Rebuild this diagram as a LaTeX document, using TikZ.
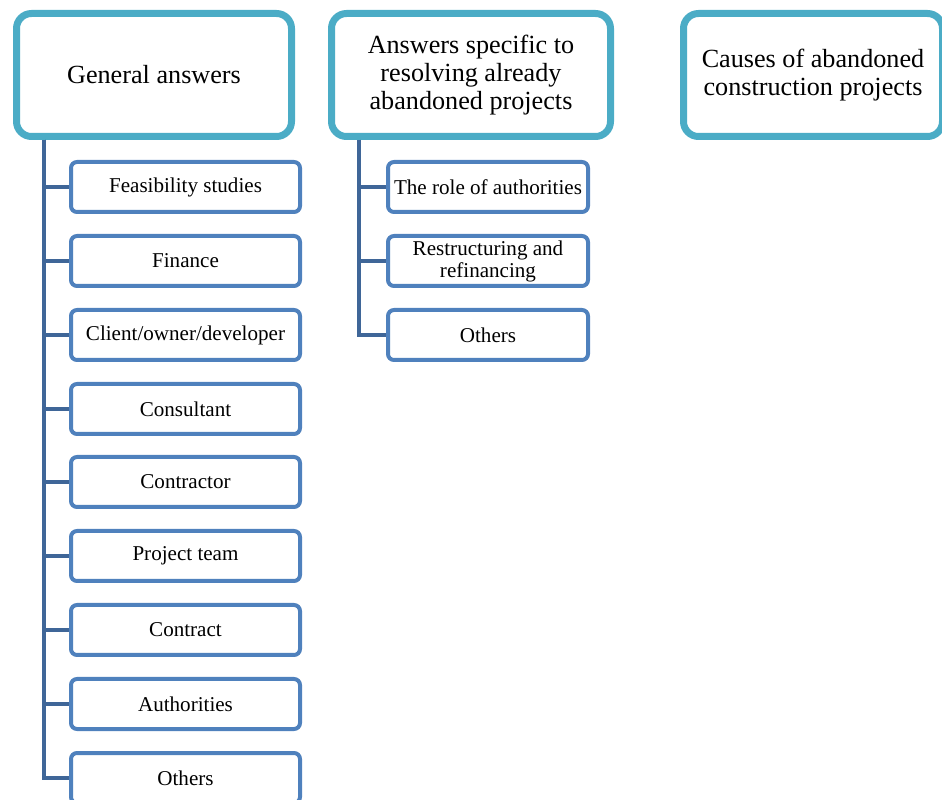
\documentclass[tikz,border=0pt]{standalone}
\usepackage{fontspec}
\setmainfont{Liberation Serif}
\definecolor{headcol}{HTML}{4BACC6}
\definecolor{itemcol}{HTML}{4F81BD}
\definecolor{spinecol}{HTML}{3F6698}
\begin{document}
\begin{tikzpicture}[
    head/.style={draw=headcol,line width=0.14cm,rounded corners=0.3cm,fill=white,
      minimum height=2.46cm,align=center,font=\fontsize{14.9}{16}\selectfont},
    item/.style={draw=itemcol,line width=0.08cm,rounded corners=0.12cm,fill=white,
      minimum height=1cm,inner sep=1pt,align=center,font=\fontsize{12}{12.5}\selectfont},
    spine/.style={draw=spinecol,line width=0.08cm}]

      \useasboundingbox (0,0) rectangle (18.84,-16);
      \clip (0,0) rectangle (18.84,-16);

      \begin{scope}[every node/.style={head}]
        \node[minimum width=5.5cm]  (h1) at (3.08,-1.5)  {General answers};
        \node[minimum width=5.58cm] (h2) at (9.42,-1.5)  {Answers specific to\\resolving already\\abandoned projects};
        \node[minimum width=5.18cm] (h3) at (16.26,-1.5) {Causes of abandoned\\construction projects};
      \end{scope}

      \begin{scope}[every node/.style={item,minimum width=4.58cm}]
        \node (g1) at (3.71,-3.74)  {Feasibility studies};
        \node (g2) at (3.71,-5.22)  {Finance};
        \node (g3) at (3.71,-6.70)  {Client/owner/developer};
        \node (g4) at (3.71,-8.18)  {Consultant};
        \node (g5) at (3.71,-9.64)  {Contractor};
        \node (g6) at (3.71,-11.12) {Project team};
        \node (g7) at (3.71,-12.60) {Contract};
        \node (g8) at (3.71,-14.08) {Authorities};
        \node (g9) at (3.71,-15.56) {Others};
      \end{scope}

      \begin{scope}[every node/.style={item,minimum width=4cm}]
        \node (r1) at (9.76,-3.74) {The role of authorities};
        \node (r2) at (9.76,-5.22) {Restructuring and\\refinancing};
        \node (r3) at (9.76,-6.70) {Others};
      \end{scope}

      \path (h1.south west) ++(0.62,0) coordinate (s1);
      \path (h2.south west) ++(0.62,0) coordinate (s2);

      \begin{scope}[every path/.style={spine}]
        \foreach \n in {g1,g2,g3,g4,g5,g6,g7,g8,g9}
          \path (s1) |- (\n.west);
        \foreach \n in {r1,r2,r3}
          \path (s2) |- (\n.west);
      \end{scope}

    \end{tikzpicture}
\end{document}
